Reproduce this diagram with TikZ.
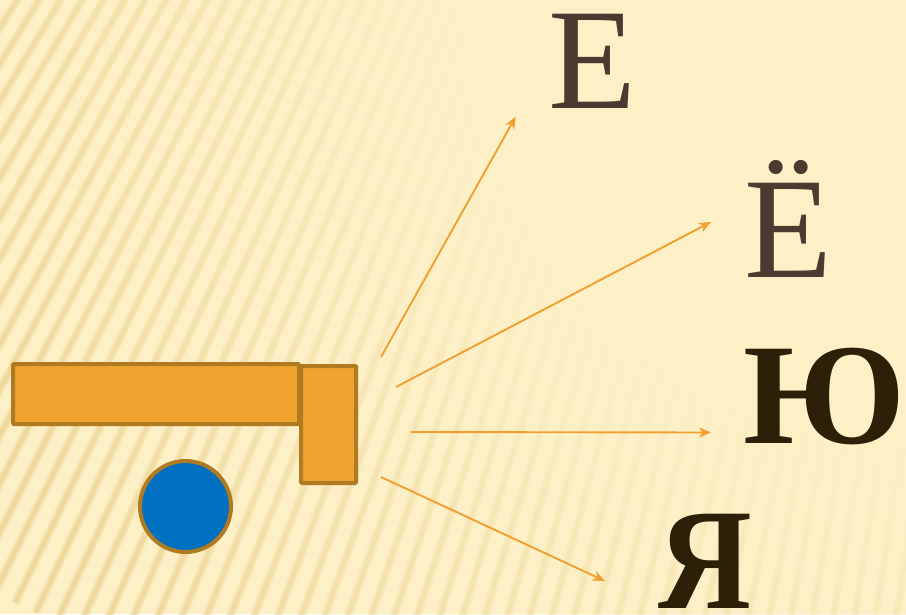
\documentclass[tikz,border=0pt]{standalone}
\usepackage{fontspec}
\setmainfont{Liberation Serif}
\usetikzlibrary{arrows.meta,fadings}
\definecolor{bgc}{HTML}{FDF0C6}
\definecolor{stripec}{HTML}{E3C57A}
\definecolor{barfill}{HTML}{F0A430}
\definecolor{barline}{HTML}{B07A22}
\definecolor{ballfill}{HTML}{0070C0}
\definecolor{arrowc}{HTML}{F0A030}
\definecolor{lightletter}{HTML}{4B3A30}
\definecolor{darkletter}{HTML}{2C2008}
\pgfdeclareradialshading{cornershade}{\pgfpointorigin}{color(0bp)=(white); color(11bp)=(white); color(25bp)=(black); color(50bp)=(black)}
\pgfdeclarefading{cornerfade}{\pgfuseshading{cornershade}}
\tikzset{
  stripewide/.style={stripec, opacity=0.2, line width=9pt},
  stripecore/.style={stripec, opacity=0.42, line width=5pt},
  blockbox/.style={fill=barfill, draw=barline, line width=4pt, rounded corners=1pt},
  ballshape/.style={fill=ballfill, draw=barline, line width=4pt},
  arr/.style={arrowc, line width=1.9pt, -{Stealth[length=12pt,width=10pt,inset=3.5pt]}},
  letter/.style={anchor=base west, inner sep=0pt, text height=98pt, text depth=0pt, font=\fontsize{144}{144}\selectfont},
}
\begin{document}
\begin{tikzpicture}[x=1pt,y=-1pt]
\useasboundingbox (0,0) rectangle (906,614);
\fill[bgc] (0,0) rectangle (906,614);
\begin{scope}
  \clip (0,0) rectangle (906,614);
  \coordinate (F) at (1275,-2009);
  \foreach \a in {97.3,97.75,...,123.4}{
    \draw[stripewide] (F) -- ++(\a:2900);
    \draw[stripecore] (F) -- ++(\a:2900);
  }
  \fill[bgc, path fading=cornerfade, fit fading=true] (906,0) circle[radius=1000pt];
\end{scope}

% blocks and ball
\draw[blockbox] (13,364) rectangle (299,424);
\draw[blockbox] (301,366) rectangle (356,483);
\draw[ballshape] (185.5,506.5) circle[radius=45.5pt];

% letters
\node[letter, text=lightletter] (ye) at (548,108) {Е};
\node[letter, text=lightletter, text height=124pt] (yo) at (744,277) {Ё};
\node[letter, text=darkletter, font=\fontsize{144}{144}\selectfont\bfseries] (yu) at (743,443) {Ю};
\node[letter, text=darkletter, xscale=0.9, font=\fontsize{144}{144}\selectfont\bfseries] (ya) at (658,608) {Я};

% arrows
\coordinate (s1) at (381,357);  \coordinate (e1) at (515.7,116.7);
\coordinate (s2) at (396,387);  \coordinate (e2) at (711,222);
\coordinate (s3) at (411,432);  \coordinate (e3) at (711,432.5);
\coordinate (s4) at (381,477);  \coordinate (e4) at (605,581);
\draw[arr] (s1) -- (e1);
\draw[arr] (s2) -- (e2);
\draw[arr] (s3) -- (e3);
\draw[arr] (s4) -- (e4);
\end{tikzpicture}
\end{document}
